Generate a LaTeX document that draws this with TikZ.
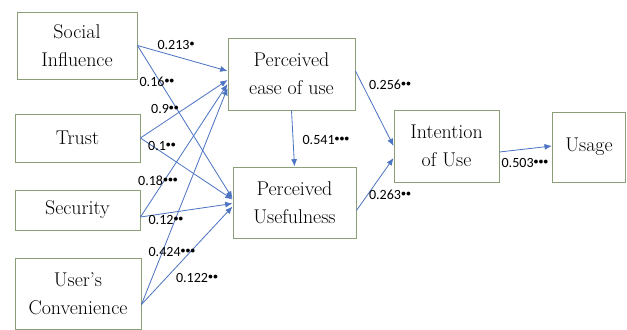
\documentclass[tikz,border=0pt]{standalone}
\usepackage{fontspec}
\newfontfamily\labfont{Carlito}
\usepackage{graphicx}
\usetikzlibrary{arrows.meta,calc}

\definecolor{boxgreen}{HTML}{8C9E78}
\definecolor{arrowblue}{HTML}{4D74C2}

% significance dot
\newcommand{\sigdot}{\raisebox{.45ex}{\scalebox{.7}{$\bullet$}}}

\begin{document}
\begin{tikzpicture}[
    x=0.03cm, y=-0.03cm,
    box/.style={rectangle, draw=boxgreen, line width=0.8pt, align=center, font=\rmfamily\fontsize{17}{24}\selectfont},
    arrow/.style={-{Latex[length=2.2mm,width=1.8mm]}, draw=arrowblue, line width=0.7pt},
    coef/.style={inner sep=0pt, font=\labfont\fontsize{12}{14}\selectfont}
]
    \useasboundingbox (0,0) rectangle (627,329);

    \node[box, minimum width=3.6cm, minimum height=2.01cm] (si) at (77,45.5) {Social\\Influence};
    \node[box, minimum width=3.75cm, minimum height=1.44cm] (trust) at (77.5,138) {Trust};
    \node[box, minimum width=3.75cm, minimum height=1.2cm] (sec) at (77.5,210) {Security};
    \node[box, minimum width=3.78cm, minimum height=2.13cm] (uc) at (78,293.5) {User’s\\Convenience};
    \node[box, minimum width=3.81cm, minimum height=2.16cm] (peou) at (291.5,74) {Perceived\\ease of use};
    \node[box, minimum width=3.69cm, minimum height=2.13cm] (pu) at (294.5,202.5) {Perceived\\Usefulness};
    \node[box, minimum width=3.15cm, minimum height=2.16cm] (iu) at (446.5,146) {Intention\\of Use};
    \node[box, minimum width=2.2cm, minimum height=2.1cm] (usage) at (589,147) {Usage};

    % paths into perceived ease of use
    \draw[arrow] (si.east) -- ($(peou.west)+(0,-3)$);
    \draw[arrow] (trust.east) -- ($(peou.west)+(0,6)$);
    \draw[arrow] ($(sec.east)+(0,7)$) -- ($(peou.west)+(0,10)$);
    \draw[arrow] ($(uc.east)+(0,11)$) -- ($(peou.west)+(0,14)$);

    % paths into perceived usefulness
    \draw[arrow] (si.east) -- ($(pu.west)+(0,-4)$);
    \draw[arrow] (trust.east) -- ($(pu.west)+(0,-3)$);
    \draw[arrow] ($(sec.east)+(0,7)$) -- ($(pu.west)+(0,1)$);
    \draw[arrow] ($(uc.east)+(0,11)$) -- ($(pu.west)+(0,4)$);

    \draw[arrow] (peou.south) -- (pu.north);
    \draw[arrow] ($(peou.east)+(0,-3)$) -- (iu.west);
    \draw[arrow] ($(pu.east)+(0,8)$) -- ($(iu.west)+(0,12)$);
    \draw[arrow] ($(iu.east)+(0,6)$) -- ($(usage.west)+(0,-1)$);

    \node[coef] (c1) at (176,45) {0.213\sigdot};
    \node[coef] (c2) at (157,82) {0.16\sigdot\sigdot};
    \node[coef] (c3) at (165,109) {0.9\sigdot\sigdot};
    \node[coef] (c4) at (162,146) {0.1\sigdot\sigdot};
    \node[coef] (c5) at (158,181) {0.18\sigdot\sigdot\sigdot};
    \node[coef] (c6) at (166,220) {0.12\sigdot\sigdot};
    \node[coef] (c7) at (172,252) {0.424\sigdot\sigdot\sigdot};
    \node[coef] (c8) at (197,278) {0.122\sigdot\sigdot};
    \node[coef] (c9) at (326,140) {0.541\sigdot\sigdot\sigdot};
    \node[coef] (c10) at (390,85) {0.256\sigdot\sigdot};
    \node[coef] (c11) at (390,195) {0.263\sigdot\sigdot};
    \node[coef] (c12) at (525,163) {0.503\sigdot\sigdot\sigdot};
\end{tikzpicture}
\end{document}
